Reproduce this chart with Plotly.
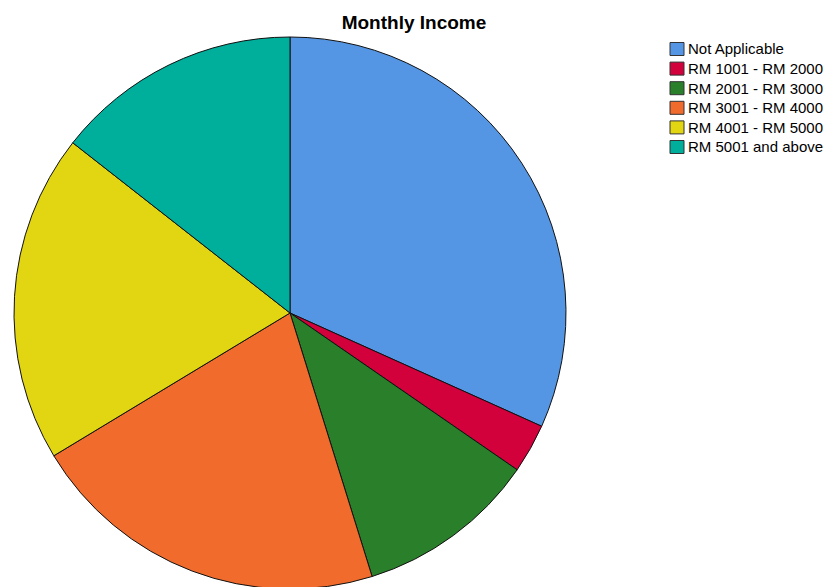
import plotly.graph_objects as go

categories = ["Not Applicable", "RM 1001 - RM 2000", "RM 2001 - RM 3000",
              "RM 3001 - RM 4000", "RM 4001 - RM 5000", "RM 5001 and above"]
counts = [33, 3, 11, 22, 20, 15]
colors = ["#5596e4", "#d2003b", "#2a7f2a", "#f16b2c", "#e2d512", "#00ae9c"]

W, H = 831, 587
OFF = 8  # page body margin offset
FONT = "Liberation Sans, Arial, sans-serif"

fig = go.Figure(go.Pie(
    labels=categories, values=counts, sort=False, direction="clockwise",
    rotation=0, textinfo="none", hoverinfo="label+value+percent",
    marker=dict(colors=colors, line=dict(color="#111111", width=1)),
    domain=dict(x=[(13 - OFF) / W, (567 - OFF) / W],
                y=[1 - (589 - OFF) / H, 1 - (37 - OFF) / H]),
    showlegend=False,
))

# custom legend (layout elements in paper coordinates)
shapes, annotations = [], []
y0, step = 49 - OFF, 19.6
for i, (lab, col) in enumerate(zip(categories, colors)):
    yc = y0 + i * step
    shapes.append(dict(type="rect", xref="paper", yref="paper",
                       x0=(670 - OFF) / W, x1=(684 - OFF) / W,
                       y0=1 - (yc + 6.5) / H, y1=1 - (yc - 6.5) / H,
                       fillcolor=col, line=dict(color="#333333", width=1)))
    annotations.append(dict(text=lab, xref="paper", yref="paper",
                            x=(686 - OFF) / W, y=1 - yc / H, xanchor="left", yanchor="middle",
                            showarrow=False, font=dict(size=15, family=FONT, color="#000000")))

fig.update_layout(
    width=W, height=H,
    margin=dict(l=0, r=0, t=0, b=0),
    paper_bgcolor="white", plot_bgcolor="white",
    font=dict(family=FONT, color="#000000", size=12),
    title=dict(text="<b>Monthly Income</b>", x=(414 - OFF) / W, xanchor="center",
               y=1 - (22 - OFF) / H, yanchor="middle",
               font=dict(size=19, family=FONT)),
    shapes=shapes, annotations=annotations,
)
fig.write_html("out.html")
